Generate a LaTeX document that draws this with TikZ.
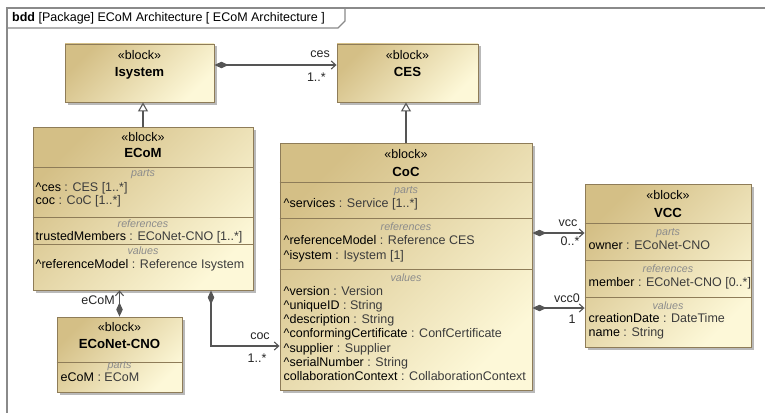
\documentclass[tikz,border=0pt]{standalone}
\usepackage{fontspec}
\setmainfont{Liberation Sans}
\usetikzlibrary{arrows.meta,shadows}
\definecolor{bdark}{HTML}{D4BF86}
\definecolor{blight}{HTML}{FDF8D8}
\definecolor{bborder}{HTML}{8E7C58}
\definecolor{lgray}{HTML}{555555}
\definecolor{tgray}{HTML}{3C3C3C}
\definecolor{sgray}{HTML}{8C8C8C}
\definecolor{fgray}{HTML}{8A8A8A}
\newcommand{\pn}[1]{{\color{black}#1}}
\newcommand{\crt}{\textasciicircum}
\begin{document}
\begin{tikzpicture}[x=1pt,y=-1pt,
  font=\fontsize{12.5}{14}\selectfont,
  blk/.style={draw=bborder, line width=0.9pt, top color=bdark, bottom color=blight, shading angle=45,
    inner sep=0pt, drop shadow={shadow xshift=2.5pt, shadow yshift=-2.5pt, fill=black!50, opacity=0.55}},
  divl/.style={draw=bborder, line width=0.8pt},
  attr/.style={anchor=west, inner sep=0pt, text height=9pt, text depth=2.5pt, text=tgray},
  sec/.style={inner sep=0pt, font=\fontsize{10.7}{12}\selectfont\itshape, text=sgray},
  stereo/.style={inner sep=0pt},
  bname/.style={inner sep=0pt, font=\fontsize{13.2}{15}\selectfont\bfseries},
  lbl/.style={inner sep=0pt, text=black!85},
  assoc/.style={draw=lgray, line width=1.1pt, {Diamond[length=14pt,width=6.5pt,fill=lgray]}-{Straight Barb[length=4.5pt,width=8pt]}},
  gen/.style={draw=lgray, line width=1.1pt, -{Triangle[open,length=9pt,width=10pt,fill=white]}},
  frm/.style={draw=fgray, line width=1.3pt}
]
\useasboundingbox (0,0) rectangle (765,412);
\clip (0,0) rectangle (765,412);
\fill[white] (0,0) rectangle (765,412);

% frame
\draw[frm] (7,430) -- (7,8) -- (780,8);
\draw[frm] (7,28) -- (338,28) -- (345,21) -- (345,8);
\node[anchor=west, inner sep=0pt] (ftitle) at (12,18.5) {\textbf{bdd} [Package] ECoM Architecture [ ECoM Architecture ]};

% blocks
\node[blk, minimum width=149pt, minimum height=58pt] (isys) at (139.5,73) {};
\node[blk, minimum width=141pt, minimum height=58pt] (ces) at (407.5,73) {};
\node[blk, minimum width=220pt, minimum height=163pt] (ecom) at (143,208.5) {};
\node[blk, minimum width=252pt, minimum height=247pt] (coc) at (406,266.5) {};
\node[blk, minimum width=166pt, minimum height=163pt] (vcc) at (668,265.5) {};
\node[blk, minimum width=125pt, minimum height=75pt] (cno) at (119.5,354.5) {};

% Isystem
\node[stereo] (isysst) at (139.5,55) {«block»};
\node[bname] (isysnm) at (139.5,73) {Isystem};
% CES
\node[stereo] (cesst) at (407.5,55) {«block»};
\node[bname] (cesnm) at (407.5,72) {CES};

% ECoM
\draw[divl] (ecom.west |- 0,167) -- (ecom.east |- 0,167);
\draw[divl] (ecom.west |- 0,217) -- (ecom.east |- 0,217);
\draw[divl] (ecom.west |- 0,244) -- (ecom.east |- 0,244);
\node[stereo] (ecomst) at (143,137) {«block»};
\node[bname] (ecomnm) at (143,153) {ECoM};
\node[sec] (ecoms1) at (143,174) {parts};
\node[attr] (ecoma1) at (35.5,188) {\pn{\crt ces} : CES [1..*]};
\node[attr] (ecoma2) at (35.5,201) {\pn{coc} : CoC [1..*]};
\node[sec] (ecoms2) at (143,224) {references};
\node[attr] (ecoma3) at (35.5,237) {\pn{trustedMembers} : ECoNet-CNO [1..*]};
\node[sec] (ecoms3) at (143,251) {values};
\node[attr] (ecoma4) at (35.5,265) {\pn{\crt referenceModel} : Reference Isystem};

% CoC
\draw[divl] (coc.west |- 0,182) -- (coc.east |- 0,182);
\draw[divl] (coc.west |- 0,218) -- (coc.east |- 0,218);
\draw[divl] (coc.west |- 0,269) -- (coc.east |- 0,269);
\node[stereo] (cocst) at (406,154) {«block»};
\node[bname] (cocnm) at (406,172) {CoC};
\node[sec] (cocs1) at (406,191) {parts};
\node[attr] (coca1) at (283.5,204) {\pn{\crt services} : Service [1..*]};
\node[sec] (cocs2) at (406,227) {references};
\node[attr] (coca2) at (283.5,241) {\pn{\crt referenceModel} : Reference CES};
\node[attr] (coca3) at (283.5,256) {\pn{\crt isystem} : Isystem [1]};
\node[sec] (cocs3) at (406,278) {values};
\node[attr] (coca4) at (283.5,292) {\pn{\crt version} : Version};
\node[attr] (coca5) at (283.5,306) {\pn{\crt uniqueID} : String};
\node[attr] (coca6) at (283.5,320) {\pn{\crt description} : String};
\node[attr] (coca7) at (283.5,334) {\pn{\crt conformingCertificate} : ConfCertificate};
\node[attr] (coca8) at (283.5,349) {\pn{\crt supplier} : Supplier};
\node[attr] (coca9) at (283.5,363) {\pn{\crt serialNumber} : String};
\node[attr] (coca10) at (283.5,377) {\pn{collaborationContext} : CollaborationContext};

% VCC
\draw[divl] (vcc.west |- 0,223) -- (vcc.east |- 0,223);
\draw[divl] (vcc.west |- 0,260) -- (vcc.east |- 0,260);
\draw[divl] (vcc.west |- 0,297) -- (vcc.east |- 0,297);
\node[stereo] (vccst) at (668,195) {«block»};
\node[bname] (vccnm) at (668,213) {VCC};
\node[sec] (vccs1) at (668,233) {parts};
\node[attr] (vcca1) at (588.5,246) {\pn{owner} : ECoNet-CNO};
\node[sec] (vccs2) at (668,269) {references};
\node[attr] (vcca2) at (588.5,283) {\pn{member} : ECoNet-CNO [0..*]};
\node[sec] (vccs3) at (668,306) {values};
\node[attr] (vcca3) at (588.5,319) {\pn{creationDate} : DateTime};
\node[attr] (vcca4) at (588.5,333) {\pn{name} : String};

% ECoNet-CNO
\draw[divl] (cno.west |- 0,362) -- (cno.east |- 0,362);
\node[stereo] (cnost) at (119.5,327) {«block»};
\node[bname] (cnonm) at (119.5,344) {ECoNet-CNO};
\node[sec] (cnos1) at (119.5,366) {parts};
\node[attr] (cnoa1) at (60.5,378) {\pn{eCoM} : ECoM};

% generalizations
\draw[gen] (ecom.north) -- (ecom.north |- isys.south);
\draw[gen] (coc.north) -- (coc.north |- ces.south);

% associations
\draw[assoc] (isys.east |- 0,65) -- (ces.west |- 0,65);
\node[lbl, anchor=east] (lces1) at (330,54) {ces};
\node[lbl, anchor=east] (lces2) at (326,77) {1..*};

\draw[assoc] (cno.north) -- (cno.north |- ecom.south);
\node[lbl] (lecom) at (98,300) {eCoM};

\coordinate (cocbend) at (211,346);
\draw[assoc] (ecom.south -| cocbend) -- (cocbend) -- (coc.west |- cocbend);
\node[lbl] (lcoc1) at (260,336) {coc};
\node[lbl] (lcoc2) at (257,358) {1..*};

\draw[assoc] (coc.east |- 0,233) -- (vcc.west |- 0,233);
\node[lbl] (lvcc1) at (568,223) {vcc};
\node[lbl] (lvcc2) at (570,241) {0..*};

\draw[assoc] (coc.east |- 0,308) -- (vcc.west |- 0,308);
\node[lbl] (lvcc3) at (567,298) {vcc0};
\node[lbl] (lvcc4) at (572,319) {1};
\end{tikzpicture}
\end{document}
